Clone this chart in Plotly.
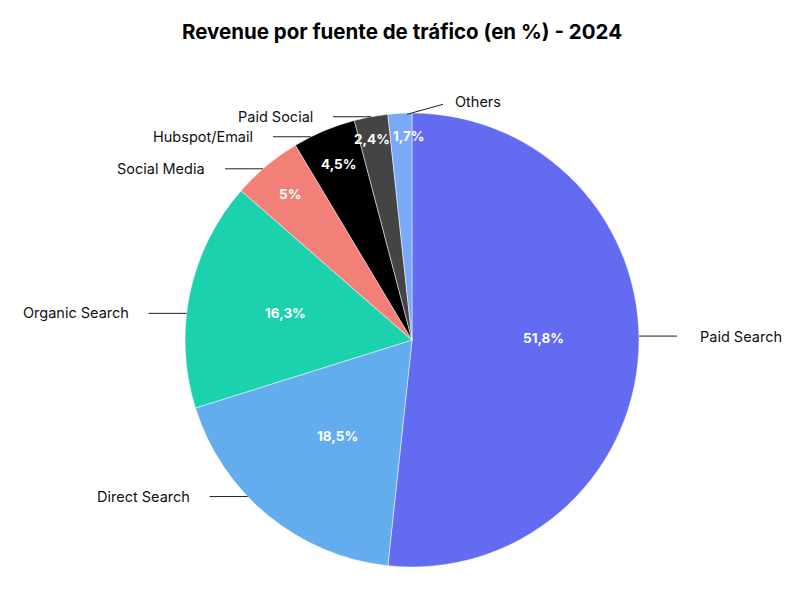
import math
import plotly.graph_objects as go

# ---- data ----
categories = ["Paid Search", "Direct Search", "Organic Search", "Social Media",
              "Hubspot/Email", "Paid Social", "Others"]
values = [51.8, 18.5, 16.3, 5.0, 4.5, 2.4, 1.7]
colors = ["#636BF1", "#63ADEF", "#1CD1AD", "#F28078", "#000000", "#444444", "#7AA9F7"]
title_text = "Revenue por fuente de tráfico (en %) - 2024"

# ---- layout config (screen pixels) ----
W, H = 805, 595
OFF = 8                      # default page body margin
WF, HF = W - OFF, H - OFF    # figure size
CX, CY, R = 412, 340, 227
FONT = "Inter, Open Sans, sans-serif"
label_nudge_y = {"Paid Search": -16, "Direct Search": -19, "Organic Search": 20,
                 "Social Media": 3, "Hubspot/Email": 6, "Paid Social": 0}
pct_nudge = {"Paid Search": (2, -9), "Direct Search": (8, -4),
             "Paid Social": (-3, 0), "Others": (8, 0)}
LINE_LEN = 38
GAP_L, GAP_R = 18, 21


def fx(px):
    return (px - OFF) / WF


def fy(py):
    return 1 - (py - OFF) / HF


def fmt(v):
    return f"{v:g}".replace(".", ",") + "%"


fig = go.Figure(go.Pie(
    labels=categories, values=values, sort=False, direction="clockwise", rotation=0,
    marker=dict(colors=colors, line=dict(color="white", width=0.5)),
    textinfo="none", hoverinfo="label+percent", showlegend=False,
    domain=dict(x=[fx(CX - R), fx(CX + R)], y=[fy(CY + R), fy(CY - R)]),
))

total = sum(values)
annotations = []
shapes = []
cum = 0.0
for cat, v in zip(categories, values):
    mid = (cum + v / 2) / total * 360.0
    cum += v
    rad = math.radians(mid)
    s, c = math.sin(rad), -math.cos(rad)
    # percentage text inside slice
    frac = 0.57 if v > 10 else 0.84 if v > 3 else 0.9
    ndx, ndy = pct_nudge.get(cat, (0, 0))
    tx, ty = CX + R * frac * s + ndx, CY + R * frac * c + ndy
    annotations.append(dict(x=fx(tx), y=fy(ty), xref="paper", yref="paper",
                            xanchor="center", yanchor="middle",
                            text=f"<b>{fmt(v)}</b>", showarrow=False,
                            font=dict(family=FONT, size=13.5, color="white")))
    # outside label
    px, py = CX + R * s, CY + R * c
    if cat == "Others":
        x0, y0 = px + 7, py + 1
        x1, y1 = x0 + 36, y0 - 10
        shapes.append(dict(type="line", xref="paper", yref="paper",
                           x0=fx(x0), y0=fy(y0), x1=fx(x1), y1=fy(y1),
                           line=dict(color="#222222", width=1)))
        annotations.append(dict(x=fx(x1 + 10), y=fy(y1 - 3), xref="paper", yref="paper",
                                text=cat, showarrow=False, xanchor="left", yanchor="middle",
                                font=dict(family=FONT, size=14.5, color="#111111")))
        continue
    ly = py + label_nudge_y.get(cat, 0)
    dx = math.sqrt(max(R * R - (ly - CY) ** 2, 0))
    if s >= 0:
        xe = CX + dx
        xo = xe + LINE_LEN
        xt, anchor = xo + GAP_R, "left"
    else:
        xe = CX - dx
        xo = xe - LINE_LEN
        xt, anchor = xo - GAP_L, "right"
    shapes.append(dict(type="line", xref="paper", yref="paper",
                       x0=fx(xe), y0=fy(ly), x1=fx(xo), y1=fy(ly),
                       line=dict(color="#222222", width=1)))
    annotations.append(dict(x=fx(xt), y=fy(ly), xref="paper", yref="paper",
                            text=cat, showarrow=False, xanchor=anchor, yanchor="middle",
                            font=dict(family=FONT, size=14.5, color="#111111")))

fig.update_layout(
    width=WF, height=HF,
    margin=dict(l=0, r=0, t=0, b=0),
    paper_bgcolor="white", plot_bgcolor="white",
    title=dict(text=f"<b>{title_text}</b>", x=fx(402), xanchor="center",
               y=fy(32), yanchor="middle", yref="container", xref="container",
               font=dict(family=FONT, size=20.5, color="#000000")),
    annotations=annotations, shapes=shapes,
)

fig.write_html("out.html")
